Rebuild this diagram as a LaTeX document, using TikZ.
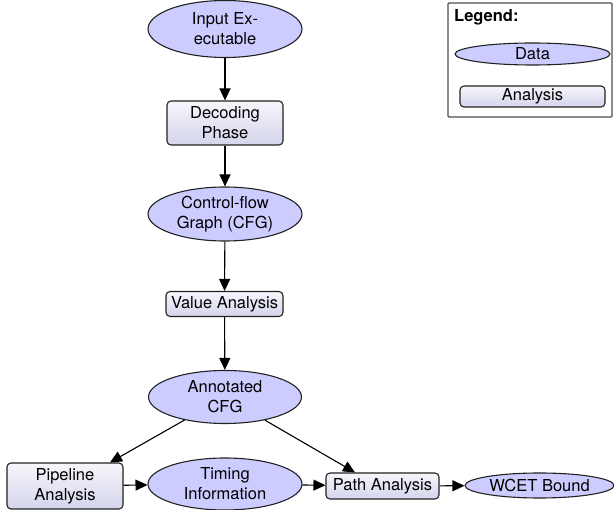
\documentclass[tikz,border=0pt]{standalone}
\usepackage{fontspec}
\setmainfont{TeX Gyre Heros}
\usetikzlibrary{shapes.geometric,arrows.meta}
\definecolor{datafill}{HTML}{CCCCFF}
\definecolor{boxtop}{HTML}{F6F6FB}
\definecolor{boxbot}{HTML}{D4D4EC}
\definecolor{edge}{HTML}{222222}
\tikzset{
  base/.style={draw=edge, line width=1.1pt, inner sep=0pt, align=center,
    font=\fontsize{16.5}{20}\selectfont},
  datanode/.style={base, ellipse, fill=datafill},
  procnode/.style={base, rectangle, rounded corners=4pt,
    top color=boxtop, bottom color=boxbot},
  flow/.style={line width=1.1pt, draw=black, -{Triangle[length=12pt,width=11pt]}}
}
\begin{document}
\begin{tikzpicture}[x=1pt,y=-1pt]
\useasboundingbox (0,0) rectangle (614,510);

% main flow
\node[datanode, minimum width=154pt, minimum height=57pt] (in) at (225,29) {Input Ex-\\ecutable};
\node[procnode, minimum width=116pt, minimum height=44pt] (dec) at (225,123) {Decoding\\Phase};
\node[datanode, minimum width=154pt, minimum height=54pt] (cfg) at (225,214) {Control-flow\\Graph (CFG)};
\node[procnode, minimum width=117pt, minimum height=25pt] (val) at (224.5,304) {Value Analysis};
\node[datanode, minimum width=153pt, minimum height=53pt] (ann) at (225,397) {Annotated\\CFG};
\node[procnode, minimum width=116pt, minimum height=46pt] (pipe) at (65,486) {Pipeline\\Analysis};
\node[datanode, minimum width=154pt, minimum height=52pt] (tim) at (225,484) {Timing\\Information};
\node[procnode, minimum width=113pt, minimum height=26pt] (path) at (382.5,486) {Path Analysis};
\node[datanode, minimum width=149pt, minimum height=25pt] (wcet) at (539.5,485.5) {WCET Bound};

\draw[flow] (in) -- (dec);
\draw[flow] (dec) -- (cfg);
\draw[flow] (cfg) -- (val);
\draw[flow] (val) -- (ann);
\draw[flow] (ann) -- (pipe.north east -| 110,463);
\draw[flow] (ann) -- (path.north -| 355,473);
\draw[flow] (pipe) -- (tim);
\draw[flow] (tim) -- (path);
\draw[flow] (path) -- (wcet);

% legend
\node[draw=edge!80, line width=1.3pt, rounded corners=1pt, minimum width=164pt, minimum height=114pt, inner sep=0pt] (legend) at (530,60) {};
\node[anchor=north west, inner sep=0pt, font=\fontsize{16.5}{20}\selectfont\bfseries] (legtitle) at (454,9) {Legend:};
\node[datanode, minimum width=155pt, minimum height=22pt] (ldata) at (532.5,54) {Data};
\node[procnode, minimum width=145pt, minimum height=21pt] (lproc) at (532.5,96.5) {Analysis};
\end{tikzpicture}
\end{document}
